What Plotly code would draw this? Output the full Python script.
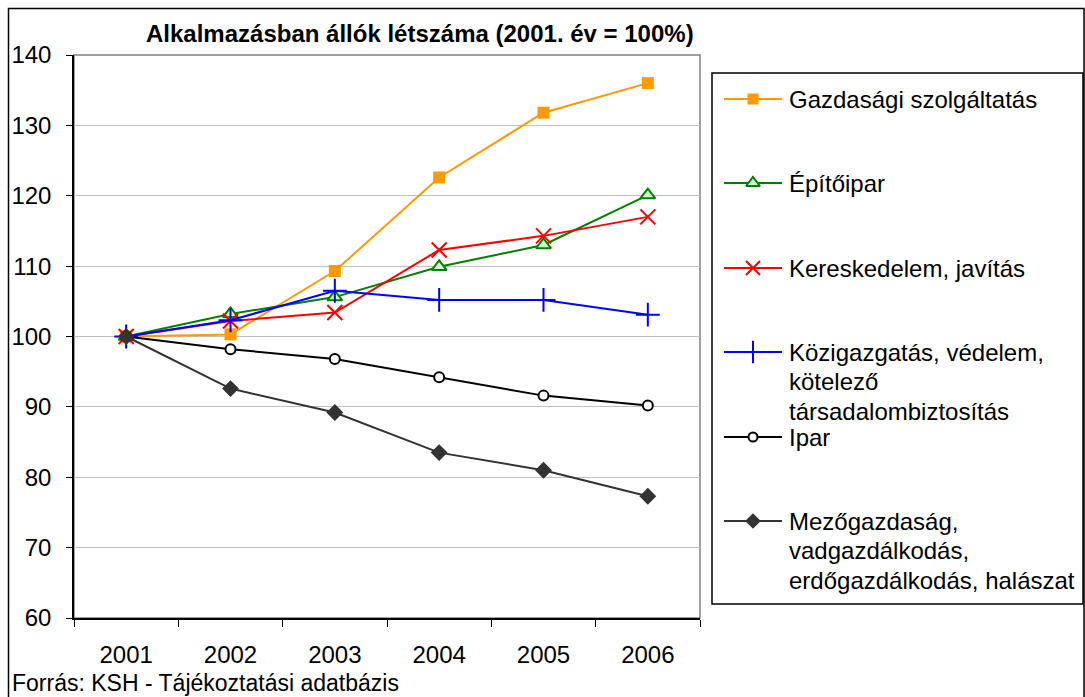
import plotly.graph_objects as go

# ---------------- data ----------------
years = ["2001", "2002", "2003", "2004", "2005", "2006"]

gazdasagi = [100.0, 100.3, 109.3, 122.6, 131.8, 136.0]
epitoipar = [100.0, 103.2, 105.6, 109.9, 113.0, 120.1]
kereskedelem = [100.0, 102.2, 103.4, 112.3, 114.3, 117.0]
kozigazgatas = [100.0, 102.3, 106.5, 105.2, 105.2, 103.1]
ipar = [100.0, 98.2, 96.8, 94.2, 91.6, 90.2]
mezogazdasag = [100.0, 92.6, 89.2, 83.5, 81.0, 77.3]

series_names = [
    "Gazdasági szolgáltatás",
    "Építőipar",
    "Kereskedelem, javítás",
    "Közigazgatás, védelem, kötelező társadalombiztosítás",
    "Ipar",
    "Mezőgazdaság, vadgazdálkodás, erdőgazdálkodás, halászat",
]
# legend text split into lines as in the original
legend_lines = [
    ["Gazdasági szolgáltatás"],
    ["Építőipar"],
    ["Kereskedelem, javítás"],
    ["Közigazgatás, védelem,", "kötelező", "társadalombiztosítás"],
    ["Ipar"],
    ["Mezőgazdaság,", "vadgazdálkodás,", "erdőgazdálkodás, halászat"],
]
series_values = [gazdasagi, epitoipar, kereskedelem, kozigazgatas, ipar, mezogazdasag]

y_ticks = [60, 70, 80, 90, 100, 110, 120, 130, 140]

title_text = "Alkalmazásban állók létszáma (2001. év = 100%)"
source_text = "Forrás: KSH - Tájékoztatási adatbázis"

# ---------------- styles ----------------
styles = [
    dict(color="#FF9900", symbol="square", size=12, fill="#FF9900", lw=0),
    dict(color="#008000", symbol="triangle-up", size=13, fill="#CCFFCC", lw=2),
    dict(color="#FF0000", symbol="x-thin", size=15, fill="#FF0000", lw=2),
    dict(color="#0000FF", symbol="cross-thin", size=17, fill="#0000FF", lw=2),
    dict(color="#000000", symbol="circle", size=10, fill="#FFFFFF", lw=2),
    dict(color="#333333", symbol="diamond", size=13, fill="#333333", lw=0),
]

FONT = "Liberation Sans, Arial, sans-serif"
W, H = 1085, 697
PL, PR, PT, PB = 74, 700, 55, 618          # plot area (pixels)
LL, LR, LT, LB = 712, 1083, 73, 604        # legend box (pixels)
legend_row_y = [99, 183, 268, 352, 437, 521]
line_gap = 29.5


def px(x):
    return x / W


def py(y):
    return 1 - y / H


fig = go.Figure()

for name, vals, st in zip(series_names, series_values, styles):
    fig.add_trace(go.Scatter(
        x=years, y=vals, name=name, mode="lines+markers",
        line=dict(color=st["color"], width=2),
        marker=dict(symbol=st["symbol"], size=st["size"], color=st["fill"],
                    line=dict(color=st["color"], width=st["lw"])),
        xaxis="x", yaxis="y", showlegend=False, cliponaxis=False,
    ))

# ---------------- manual legend (drawn on hidden overlay axes) ----------------
annotations = []
for i, (lines, st) in enumerate(zip(legend_lines, styles)):
    yc = legend_row_y[i]
    fig.add_trace(go.Scatter(
        x=[724, 782], y=[yc, yc], mode="lines",
        line=dict(color=st["color"], width=2),
        xaxis="x2", yaxis="y2", showlegend=False, hoverinfo="skip",
    ))
    fig.add_trace(go.Scatter(
        x=[753], y=[yc], mode="markers",
        marker=dict(symbol=st["symbol"], size=st["size"] - 1, color=st["fill"],
                    line=dict(color=st["color"], width=st["lw"])),
        xaxis="x2", yaxis="y2", showlegend=False, hoverinfo="skip",
    ))
    for j, ln in enumerate(lines):
        annotations.append(dict(
            x=787, y=yc + j * line_gap, xref="x2", yref="y2",
            text=ln, showarrow=False, xanchor="left", yanchor="middle",
            font=dict(family=FONT, size=24, color="#000000"),
        ))

annotations.append(dict(
    x=px(10), y=py(683), xref="paper", yref="paper", text=source_text,
    showarrow=False, xanchor="left", yanchor="middle",
    font=dict(family=FONT, size=23, color="#000000"),
))
annotations.append(dict(
    x=px(420), y=py(33), xref="paper", yref="paper", text="<b>" + title_text + "</b>",
    showarrow=False, xanchor="center", yanchor="middle",
    font=dict(family=FONT, size=24, color="#000000"),
))

shapes = [
    # plot area border (grey)
    dict(type="rect", xref="paper", yref="paper", x0=px(PL), x1=px(PR), y0=py(PB), y1=py(PT),
         line=dict(color="#808080", width=1.5), layer="below"),
    # legend box
    dict(type="rect", xref="paper", yref="paper", x0=px(LL), x1=px(LR), y0=py(LB), y1=py(LT),
         line=dict(color="#000000", width=1.5)),
    # outer chart frame
    dict(type="rect", xref="paper", yref="paper", x0=px(8.5), x1=px(1084), y0=py(702), y1=py(8.5),
         line=dict(color="#000000", width=1.5)),
]

fig.update_layout(
    width=W, height=H, autosize=False,
    margin=dict(l=0, r=0, t=0, b=0, pad=0, autoexpand=False),
    paper_bgcolor="white", plot_bgcolor="white",
    showlegend=False,
    font=dict(family=FONT, size=24, color="#000000"),
    xaxis=dict(
        domain=[px(PL), px(PR)], type="category", automargin=False,
        range=[-0.5, len(years) - 0.5], autorange=False,
        tickson="boundaries", ticks="outside", ticklen=7, tickwidth=1, tickcolor="#000000",
        showline=True, linecolor="#000000", linewidth=1.5,
        showgrid=False, zeroline=False,
        tickfont=dict(family=FONT, size=24, color="#000000"),
        ticklabelstandoff=14,
        anchor="y",
    ),
    yaxis=dict(
        domain=[py(PB), py(PT)], range=[60, 140], autorange=False, automargin=False,
        tickvals=y_ticks, ticktext=[str(v) for v in y_ticks],
        ticks="outside", ticklen=6, tickwidth=1, tickcolor="#000000",
        showline=True, linecolor="#000000", linewidth=1.5,
        showgrid=True, gridcolor="#C0C0C0", gridwidth=1, zeroline=False,
        tickfont=dict(family=FONT, size=24, color="#000000"),
        ticklabelstandoff=10,
        anchor="x",
    ),
    xaxis2=dict(domain=[px(LL), px(LR)], range=[LL, LR], autorange=False, visible=False,
                anchor="y2", automargin=False),
    yaxis2=dict(domain=[py(LB), py(LT)], range=[LB, LT], autorange=False, visible=False,
                anchor="x2", automargin=False),
    annotations=annotations,
    shapes=shapes,
)

fig.write_html(
    "out.html",
    config={"displayModeBar": False},
    post_script="document.body.style.margin='0';document.body.style.overflow='hidden';",
)
